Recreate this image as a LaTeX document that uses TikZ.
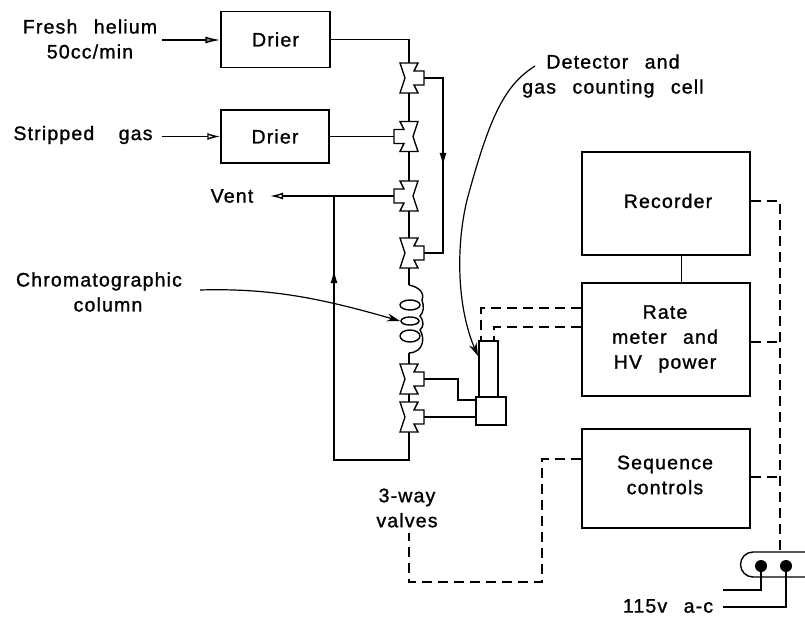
\documentclass[tikz,border=0pt]{standalone}
\usepackage{fontspec}
\setmainfont[LetterSpace=6,WordSpace=2.5,FakeBold=1.2]{Liberation Sans}
\usetikzlibrary{arrows.meta,positioning,calc}

\begin{document}
\begin{tikzpicture}[
  x=1pt, y=-1pt,
  font=\fontsize{19.5}{25}\selectfont,
  unit/.style={draw, line width=1.4pt, align=center, inner sep=0pt},
  lbl/.style={align=center, inner sep=0pt},
  pipe/.style={line width=1.4pt},
  wire/.style={line width=1.4pt, dash pattern=on 10pt off 6pt},
  flow/.style={line width=1.4pt, -{Latex[open, length=13pt, width=7pt]}},
  feed/.style={line width=1.4pt, -{Latex[length=15pt, width=7pt, fill=gray]}},
  leader/.style={line width=1.2pt, -{Stealth[length=13pt, width=8pt]}},
  pics/valve/.style={code={
    \draw[line width=1.4pt, fill=white] (-9,-15) -- (9,-15) -- (4,0) -- (9,15) -- (-9,15) -- (-5,7) -- (-15,7) -- (-15,-7) -- (-5,-7) -- cycle;
    \coordinate (-top) at (0,-15);
    \coordinate (-bot) at (0,15);
    \coordinate (-port) at (-15,0);
  }},
]
\useasboundingbox (0,0) rectangle (805,620);

\node[unit, minimum width=109pt, minimum height=56pt] (drierA) at (275.5,39.5) {};
\node[unit, minimum width=108pt, minimum height=53pt] (drierB) at (275,136.5) {};
\node[lbl] at (drierA) {Drier};
\node[lbl] at (drierB) {Drier};
\node[unit, minimum width=168pt, minimum height=103pt] (rec) at (666,203.5) {};
\node[unit, minimum width=168pt, minimum height=113pt] (rate) at (666,339.5) {};
\node[unit, minimum width=168pt, minimum height=99pt] (seq) at (666,478.5) {};
\node[lbl] (recT) at (668,201) {Recorder};
\node[lbl] (rateT) at (665,339) {Rate\\meter and\\HV power};
\node[lbl] (seqT) at (665,475) {Sequence\\controls};
\node[unit, minimum width=30pt, minimum height=28pt] (trap) at (491,411) {};
\node[unit, minimum width=19pt, minimum height=56pt] (tube) at (488.5,369) {};

\node[lbl] (fresh) at (90,39) {Fresh helium\\50cc/min};
\node[lbl] (strip) at (83,135) {Stripped\hspace{8pt} gas};
\node[lbl] (vent) at (232,196) {Vent};
\node[lbl] (chrom) at (99,292) {Chromatographic\\\hspace*{18pt}column};
\node[lbl] (det) at (613,76) {Detector and\\gas counting cell};
\node[lbl] (way) at (407,508) {3-way\\valves};
\node[lbl] (mains) at (668,606) {115v a-c};

\pic[xscale=-1] (vA) at (409,78) {valve};
\pic (vB) at (409,136.5) {valve};
\pic (vC) at (409,196) {valve};
\pic[xscale=-1] (vD) at (409,253) {valve};
\pic[xscale=-1] (vE) at (409,379) {valve};
\pic[xscale=-1] (vF) at (409,417) {valve};

\coordinate (freshIn) at (162,40);
\coordinate (stripIn) at (162,136.5);
\coordinate (ventOut) at (270,196);
\coordinate (tee) at (334,196);
\coordinate (retB) at (409,460);
\coordinate (retA) at (334,330);
\coordinate (retU) at (334,270);
\coordinate (riserT) at (443,78);
\coordinate (riserA) at (443,166);
\coordinate (jog) at (458,400);
\coordinate (coilT) at (409,285);
\coordinate (coilB) at (409,353);

\draw[feed] (freshIn) -- (drierA.west |- freshIn);
\draw[flow] (stripIn) -- (drierB.west |- stripIn);
\draw[pipe] (drierA.east) -| (vA-top);
\draw[pipe] (drierB.east) -- (vB-port);
\draw[pipe] (vA-bot) -- (vB-top);
\draw[pipe] (vB-bot) -- (vC-top);
\draw[pipe] (vC-bot) -- (vD-top);
\draw[pipe] (vD-bot) -- (coilT);
\draw[pipe] (coilB) -- (vE-top);
\draw[pipe] (vE-bot) -- (vF-top);
\draw[pipe] (vF-bot) -- (retB) -| (tee);
\draw[flow] (vC-port) -- (ventOut);
\draw[flow] (retA) -- (retU);
\draw[pipe] (vA-port) -- (riserT) |- (vD-port);
\draw[flow] (riserT) -- (riserA);
\draw[pipe] (vE-port) -| (jog) |- (trap.west |- jog);
\draw[pipe] (vF-port) -- (trap.west |- vF-port);

% column coil
\draw[pipe] (coilT) .. controls (418,287) and (425,292) .. (422,300)
  .. controls (424,306) and (424,312) .. (420,316)
  .. controls (424,322) and (424,326) .. (420,330)
  .. controls (425,338) and (424,352) .. (coilB);
\draw[pipe] (410,305) ellipse (10pt and 5pt);
\draw[pipe] (410,321) ellipse (9pt and 4pt);
\draw[pipe] (410,336) ellipse (10pt and 6pt);

\coordinate (chromA) at (200,290);
\coordinate (chromB) at (400,321);
\draw[leader] (chromA) .. controls (270,288) and (320,298) .. (chromB);
\coordinate (detA) at (535,66);
\coordinate (detB) at (467,200);
\coordinate (detC) at (478,356);
\draw[leader] (detA) .. controls (505,85) and (490,115) .. (detB) .. controls (455,250) and (458,310) .. (detC);

% instrument wiring
\coordinate (sigA) at (481,308);
\coordinate (sigB) at (494,327);
\draw[wire] (rate.west |- sigA) -- (sigA) -- (sigA |- tube.north);
\draw[wire] (rate.west |- sigB) -- (sigB) -- (sigB |- tube.north);
\draw[line width=1pt] (rec.south -| 681,0) -- (rate.north -| 681,0);
\coordinate (busT) at (780,201);
\coordinate (ctlA) at (542,459);
\coordinate (ctlB) at (409,582);
\coordinate (ctlC) at (409,533);
\draw[wire] (rec.east |- busT) -- (busT) -- (780,552);
\draw[wire] (rate.east |- 0,342) -- (780,342);
\draw[wire] (seq.east |- 0,477) -- (780,477);
\draw[wire] (seq.west |- ctlA) -- (ctlA) |- (ctlB) -- (ctlC);

% outlet
\draw[pipe] (805,552) -- (753,552) arc[start angle=270, end angle=90, radius=12.5] -- (805,577);
\node[circle, fill=black, inner sep=0pt, minimum size=12pt] (plugA) at (761,566) {};
\node[circle, fill=black, inner sep=0pt, minimum size=12pt] (plugB) at (786,566) {};
\coordinate (lineA) at (723,590);
\coordinate (lineB) at (723,607);
\draw[pipe] (plugA) |- (lineA);
\draw[pipe] (plugB) |- (lineB);
\end{tikzpicture}
\end{document}
